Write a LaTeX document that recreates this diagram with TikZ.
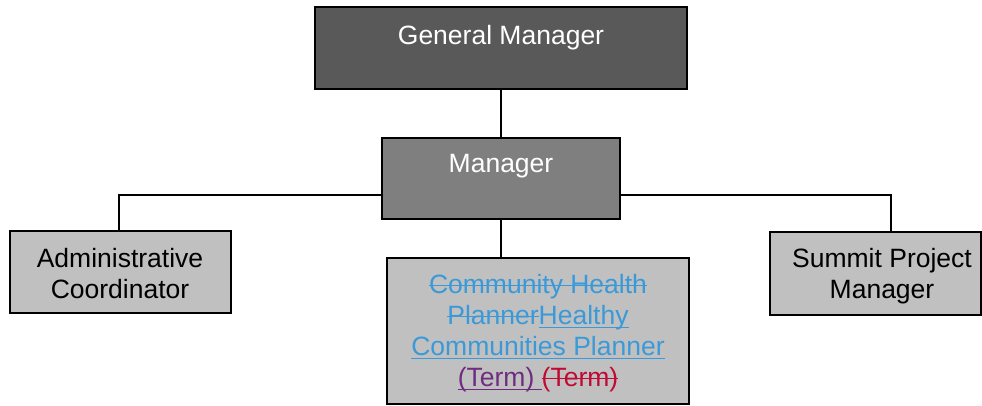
\documentclass[tikz,border=0pt]{standalone}
\usepackage{fontspec}
\setmainfont{Liberation Sans}
\usetikzlibrary{backgrounds}
\definecolor{gmfill}{HTML}{595959}
\definecolor{mgrfill}{HTML}{7F7F7F}
\definecolor{lowfill}{HTML}{C0C0C0}
\definecolor{hblue}{HTML}{3A9AD9}
\definecolor{hpurple}{HTML}{6F2C80}
\definecolor{hred}{HTML}{C00A33}
\newlength\mymarklen
\newcommand{\mysout}[1]{\settowidth{\mymarklen}{#1}\rlap{\rule[0.25em]{\mymarklen}{1.6pt}}#1}
\newcommand{\myuline}[1]{\settowidth{\mymarklen}{#1}\rlap{\rule[-0.16em]{\mymarklen}{1.6pt}}#1}
\begin{document}
\begin{tikzpicture}[x=1pt,y=-1pt,
  box/.style={draw=black,line width=1.5pt,rectangle,inner sep=0pt},
  conn/.style={line width=2.7pt},
  lbl/.style={font=\fontsize{26.5}{31}\selectfont,align=center,inner sep=0pt}]
\useasboundingbox (0,0) rectangle (982,405);
\node[box,fill=gmfill,minimum width=372pt,minimum height=82pt] (gm) at (501,48) {};
\node[lbl,white,anchor=base] (gmt) at (501,44) {General Manager};
\node[box,fill=mgrfill,minimum width=238pt,minimum height=81pt] (mgr) at (501,178.5) {};
\node[lbl,white,anchor=base] (mgrt) at (501,172) {Manager};
\node[box,fill=lowfill,minimum width=221pt,minimum height=82pt] (adm) at (120.5,272) {};
\node[lbl,anchor=base] (admt) at (120,298) {Administrative\\Coordinator};
\node[box,fill=lowfill,minimum width=211pt,minimum height=83pt] (sum) at (875.5,273.5) {};
\node[lbl,anchor=base] (sumt) at (882,298) {Summit Project\\Manager};
\node[box,fill=lowfill,minimum width=302pt,minimum height=146pt] (ctr) at (538,331) {};
\node[lbl,anchor=base] (ctrt) at (538,386) {{\color{hblue}\mysout{Community Health}}\\
{\color{hblue}\mysout{Planner}\myuline{Healthy}}\\
{\color{hblue}\myuline{Communities Planner}}\\
{\color{hpurple}\myuline{(Term)~}}{\color{hred}\mysout{(Term)}}};
\coordinate (la) at (119,195);
\coordinate (ra) at (891,195);
\begin{scope}[on background layer]
\draw[conn] (gm.south) -- (mgr.north);
\draw[conn] (mgr.south) -- (mgr.south |- ctr.north);
\draw[conn] (la |- adm.north) -- (la) -- (ra) -- (ra |- sum.north);
\end{scope}
\end{tikzpicture}
\end{document}
